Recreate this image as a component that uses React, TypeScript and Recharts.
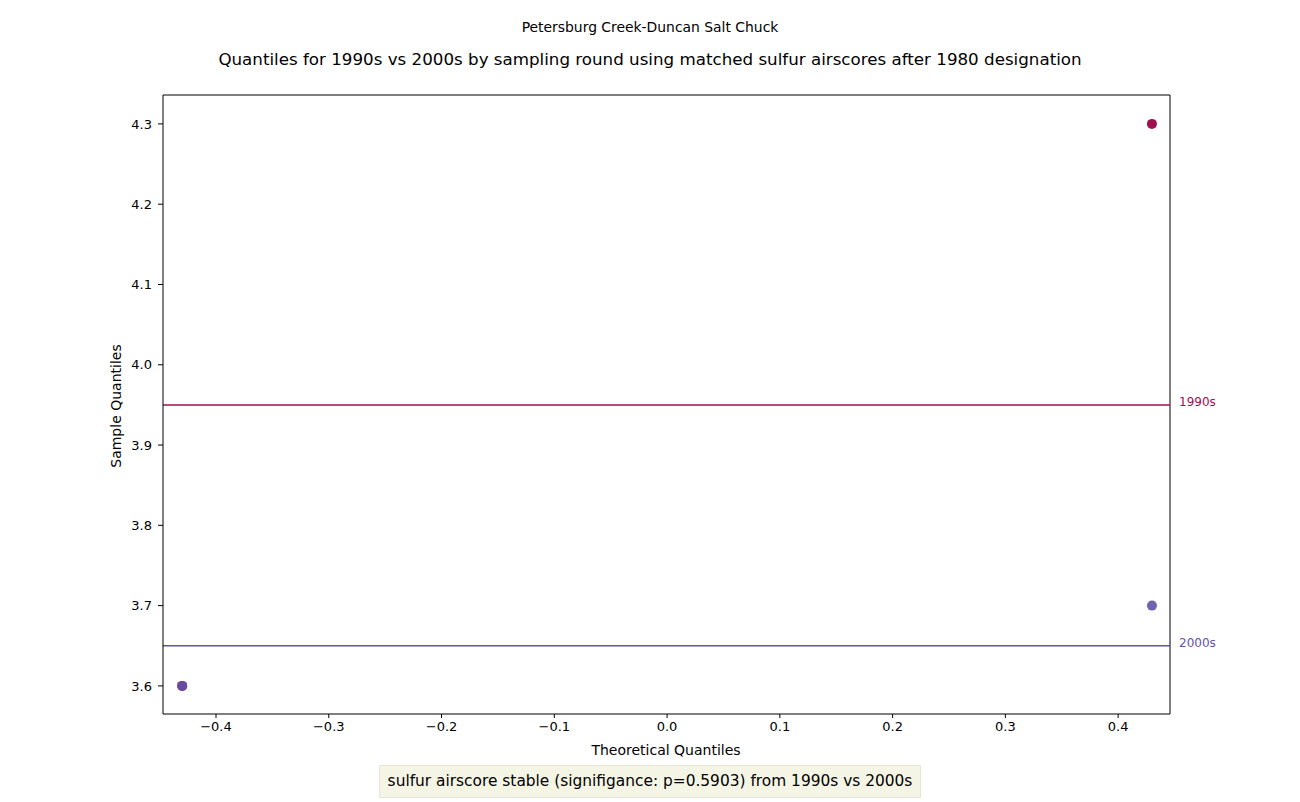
import { ScatterChart, Scatter, XAxis, YAxis, ReferenceLine } from 'recharts';

const xTicks = [-0.4, -0.3, -0.2, -0.1, 0.0, 0.1, 0.2, 0.3, 0.4];
const yTicks = [3.6, 3.7, 3.8, 3.9, 4.0, 4.1, 4.2, 4.3];

const theoretical = [-0.43, 0.43];
const sample1990s = [3.6, 4.3];
const sample2000s = [3.6, 3.7];
const mean1990s = 3.95;
const mean2000s = 3.65;

const color1990s = '#a0104f';
const color2000s = '#6252aa';
const font = '"DejaVu Sans", sans-serif';

const data1990s = theoretical.map((x, i) => ({ x, y: sample1990s[i] }));
const data2000s = theoretical.map((x, i) => ({ x, y: sample2000s[i] }));

const fmt = (v: number) => v.toFixed(1).replace('-', '\u2212');

const LineLabel = ({ viewBox, text, color }: any) => {
  if (!viewBox) return null;
  return (
    <text x={viewBox.x + viewBox.width + 9} y={viewBox.y + 1} fill={color} fontSize={12} fontFamily={font}>
      {text}
    </text>
  );
};

export default function App() {
  return (
    <div style={{ position: 'absolute', left: 0, top: 0, width: 1300, height: 802, background: '#fff', fontFamily: font }}>
      <div style={{ position: 'absolute', top: 19, width: 1300, textAlign: 'center', fontSize: 13.9 }}>
        Petersburg Creek-Duncan Salt Chuck
      </div>
      <div style={{ position: 'absolute', top: 49, width: 1300, textAlign: 'center', fontSize: 16.7 }}>
        Quantiles for 1990s vs 2000s by sampling round using matched sulfur airscores after 1980 designation
      </div>
      <ScatterChart width={1300} height={802} margin={{ top: 95, right: 130, bottom: 58, left: 103 }}>
        <XAxis
          type="number"
          dataKey="x"
          domain={[-0.447, 0.446]}
          ticks={xTicks}
          tickFormatter={fmt}
          allowDataOverflow
          height={30}
          stroke="#000"
          tick={{ fill: '#000', fontSize: 13, fontFamily: font }}
          tickSize={4}
          tickMargin={4}
        />
        <YAxis
          type="number"
          dataKey="y"
          domain={[3.565, 4.336]}
          ticks={yTicks}
          tickFormatter={fmt}
          allowDataOverflow
          width={60}
          stroke="#000"
          tick={{ fill: '#000', fontSize: 13, fontFamily: font }}
          tickSize={5}
          tickMargin={6}
        />
        <ReferenceLine x={0.446} stroke="#000" />
        <ReferenceLine y={4.336} stroke="#000" />
        <ReferenceLine
          y={mean1990s}
          stroke={color1990s}
          strokeWidth={1.5}
          label={<LineLabel text="1990s" color={color1990s} />}
        />
        <ReferenceLine
          y={mean2000s}
          stroke={color2000s}
          strokeWidth={1.5}
          label={<LineLabel text="2000s" color={color2000s} />}
        />
        <Scatter data={data1990s} fill={color1990s} isAnimationActive={false} shape={(p: any) => <circle cx={p.cx} cy={p.cy} r={5} fill={color1990s} />} />
        <Scatter data={data2000s} fill={color2000s} isAnimationActive={false} shape={(p: any) => <circle cx={p.cx} cy={p.cy} r={5} fill={color2000s} fillOpacity={0.9} />} />
      </ScatterChart>
      <svg width={1300} height={802} style={{ position: 'absolute', left: 0, top: 0, pointerEvents: 'none' }}>
        <text x={666} y={755} textAnchor="middle" fontSize={14} fontFamily={font} fill="#000">
          Theoretical Quantiles
        </text>
        <text x={121} y={406} textAnchor="middle" fontSize={14} fontFamily={font} fill="#000" transform="rotate(-90 121 406)">
          Sample Quantiles
        </text>
      </svg>
      <div
        style={{
          position: 'absolute',
          left: 379,
          top: 765,
          width: 542,
          height: 33,
          background: '#f5f5e6',
          border: '1px solid #e6e6d8',
          boxSizing: 'border-box',
          textAlign: 'center',
          lineHeight: '31px',
          fontSize: 15.4,
          color: '#000',
        }}
      >
        sulfur airscore stable (signifigance: p=0.5903) from 1990s vs 2000s
      </div>
    </div>
  );
}
